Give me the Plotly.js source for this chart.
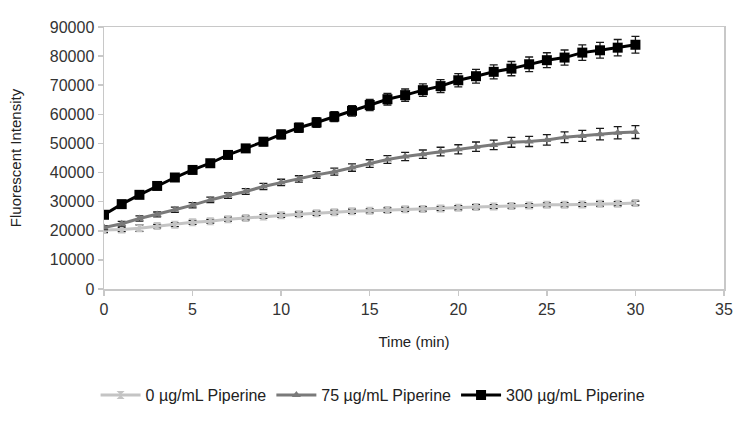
<!DOCTYPE html>
<html>
<head>
<meta charset="utf-8">
<script src="https://cdn.plot.ly/plotly-3.0.1.min.js"></script>
<style>html,body{margin:0;padding:0;background:#fff;}#chart{width:750px;height:426px;}</style>
</head>
<body>
<div id="chart"></div>
<script>
const time = [0,1,2,3,4,5,6,7,8,9,10,11,12,13,14,15,16,17,18,19,20,21,22,23,24,25,26,27,28,29,30];

const pip0 = [20300,20400,20900,21600,22100,22900,23300,24000,24400,24900,25300,25700,26000,26400,26700,26850,27100,27400,27500,27650,27900,28200,28300,28550,28650,28900,28950,29000,29250,29300,29500];
const pip0Err = [900,700,1100,600,700,700,650,700,650,650,700,750,700,700,750,700,750,700,750,700,700,750,700,750,700,700,750,700,800,700,700];

const pip75 = [21100,22400,24200,25600,27200,28800,30600,32100,33500,35200,36600,37800,39200,40300,41700,43100,44500,45500,46300,47200,48000,48900,49500,50400,50700,51200,52100,52600,53200,53700,53900];
const pip75Err = [700,800,900,850,900,900,950,950,1000,1050,1100,1100,1150,1200,1250,1300,1350,1400,1450,1500,1550,1600,1650,1700,1750,1800,1850,1900,2000,2100,2200];

const pip300 = [25500,29150,32350,35400,38300,40900,43200,46050,48300,50600,53100,55400,57200,59200,61200,63200,65200,66600,68300,69700,71700,73100,74600,75700,77200,78600,79500,81200,82000,82900,83900];
const pip300Err = [700,800,900,900,1000,1000,1100,1200,1300,1400,1500,1600,1650,1700,1800,1900,2000,2100,2150,2200,2300,2350,2400,2450,2500,2550,2600,2650,2700,2800,2900];

const seriesNames = ['0 µg/mL Piperine','75 µg/mL Piperine','300 µg/mL Piperine'];

const errStyle = (arr) => ({type:'data', array: arr, visible:true, color:'#1a1a1a', thickness:1.3, width:4});

const traces = [
  {x: time, y: pip0, error_y: errStyle(pip0Err), name: seriesNames[0], mode:'lines+markers',
   line:{color:'#c4c4c4', width:3}, marker:{symbol:'hourglass', size:8, color:'#c4c4c4'}},
  {x: time, y: pip75, error_y: errStyle(pip75Err), name: seriesNames[1], mode:'lines+markers',
   line:{color:'#7a7a7a', width:3}, marker:{symbol:'triangle-up', size:8, color:'#7a7a7a'}},
  {x: time, y: pip300, error_y: errStyle(pip300Err), name: seriesNames[2], mode:'lines+markers',
   line:{color:'#000000', width:3}, marker:{symbol:'square', size:10, color:'#000000'}}
];

const layout = {
  width:750, height:426,
  margin:{l:104, r:26, t:27, b:137},
  paper_bgcolor:'#fff', plot_bgcolor:'#fff',
  font:{family:'Liberation Sans, Arial, sans-serif', color:'#333', size:16},
  showlegend:true,
  legend:{orientation:'h', x:0.434, xanchor:'center', y:-0.405, yanchor:'middle',
          font:{size:16, color:'#222'}, itemwidth:40, traceorder:'normal'},
  xaxis:{range:[0,35], dtick:5, tick0:0, showgrid:false, zeroline:false,
         showline:true, linecolor:'#c8c8c8', linewidth:1.5, mirror:true,
         ticks:'outside', ticklen:5, tickcolor:'#c8c8c8', tickwidth:1.5,
         tickfont:{size:16, color:'#333'},
         title:{text:'Time (min)', font:{size:15, color:'#222'}, standoff:20}},
  yaxis:{range:[0,90000], dtick:10000, tick0:0, showgrid:false, zeroline:false,
         tickformat:'d',
         showline:true, linecolor:'#c8c8c8', linewidth:1.5, mirror:true,
         ticks:'outside', ticklen:5, tickcolor:'#c8c8c8', tickwidth:1.5,
         tickfont:{size:16, color:'#333'},
         title:{text:'Fluorescent Intensity', font:{size:15, color:'#222'}, standoff:24}}
};

Plotly.newPlot('chart', traces, layout, {displayModeBar:false, staticPlot:true});
</script>
</body>
</html>
